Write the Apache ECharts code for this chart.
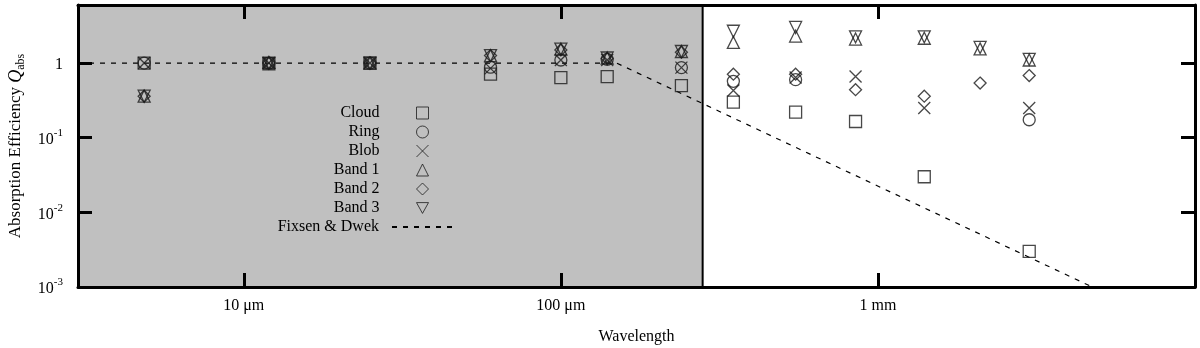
<!DOCTYPE html>
<html>
<head>
<meta charset="utf-8">
<script src="https://cdn.jsdelivr.net/npm/echarts@6/dist/echarts.min.js"></script>
<style>
  html, body { margin: 0; padding: 0; background: #fff; }
  #chart { width: 1200px; height: 348px; }
</style>
</head>
<body>
<div id="chart"></div>
<script>
// wavelengths in micron, one per column of points
var wavelength = [4.85, 12, 25, 60, 100, 140, 240, 350, 550, 850, 1400, 2100, 3000];

var cloud = [1.0, 0.98, 1.0, 0.71, 0.64, 0.66, 0.50, 0.30, 0.22, 0.165, 0.030, null, 0.0030];
var ring  = [1.0, 1.0, 1.0, 0.88, 1.10, 1.12, 0.87, 0.57, 0.60, null, null, null, 0.174];
var blob  = [1.0, 1.0, 1.0, 0.85, 1.10, 1.10, 0.87, 0.43, 0.64, 0.66, 0.25, null, 0.25];
var band1 = [0.36, 1.02, 1.0, 1.26, 1.54, 1.17, 1.43, 1.89, 2.30, 2.10, 2.15, 1.55, 1.10];
var band2 = [0.36, 1.0, 1.0, 1.26, 1.50, 1.15, 1.40, 0.71, 0.71, 0.44, 0.36, 0.54, 0.68];
var band3 = [0.36, 1.0, 1.0, 1.26, 1.54, 1.17, 1.43, 2.67, 3.00, 2.25, 2.25, 1.62, 1.12];

// Fixsen & Dwek curve: flat at 1, then falling as lambda^-2
var fixsenX = [3, 150, 4743];
var fixsenY = [1, 1, 0.001];

// shaded band (wavelength range)
var shadeFrom = 3, shadeTo = 280;

var xMin = 3, xMax = 10000;
var yMin = 0.001, yMax = 6;

var font = 'Liberation Serif';
var ink = '#1a1a1a';

var crossPath = 'path://M0,0L10,10M10,0L0,10';
var downTriPath = 'path://M0,0L10,0L5,9Z';

function pairs(xs, ys) {
    var out = [];
    for (var i = 0; i < xs.length; i++) {
        if (ys[i] != null) out.push([xs[i], ys[i]]);
    }
    return out;
}

function isPow10(v) {
    var lg = Math.log10(v);
    return Math.abs(lg - Math.round(lg)) < 1e-6 ? Math.round(lg) : null;
}

function pointSeries(name, ys, symbol) {
    return {
        name: name,
        type: 'scatter',
        data: pairs(wavelength, ys),
        symbol: symbol,
        symbolSize: 12,
        z: 3,
        itemStyle: {
            color: 'transparent',
            borderColor: ink,
            borderWidth: 1.3
        },
        emphasis: { disabled: true }
    };
}

var myChart = echarts.init(document.getElementById('chart'), null, { renderer: 'canvas' });

var axisLine = { show: true, onZero: false, lineStyle: { color: '#000', width: 3 } };
var axisTick = { show: true, inside: true, length: 14, lineStyle: { color: '#000', width: 3 } };

var legendText = { fontFamily: font, fontSize: 16, color: '#000' };

var option = {
    backgroundColor: '#fff',
    animation: false,
    textStyle: { fontFamily: font, color: '#000' },
    grid: { left: 78, right: 5, top: 5, bottom: 61, outerBoundsMode: 'none', containLabel: false },
    legend: [
        {
            // point symbols
            orient: 'vertical',
            align: 'right',
            right: 771,
            top: 105,
            padding: 0,
            itemWidth: 12,
            itemHeight: 12,
            itemGap: 3,
            selectedMode: false,
            itemStyle: { borderWidth: 1 },
            textStyle: Object.assign({ padding: [0, 32, 0, 0] }, legendText),
            data: ['Cloud', 'Ring', 'Blob', 'Band 1', 'Band 2', 'Band 3']
        },
        {
            // dashed curve
            orient: 'vertical',
            align: 'right',
            right: 745,
            top: 219,
            padding: 0,
            itemWidth: 62,
            itemHeight: 12,
            selectedMode: false,
            textStyle: Object.assign({ padding: [0, 8, 0, 0] }, legendText),
            data: [{
                name: 'Fixsen & Dwek',
                itemStyle: { color: 'transparent', borderColor: 'transparent', borderWidth: 0 }
            }]
        }
    ],
    xAxis: [
        {
            type: 'log',
            logBase: 10,
            min: xMin,
            max: xMax,
            position: 'bottom',
            z: 5,
            name: 'Wavelength',
            nameLocation: 'middle',
            nameGap: 42,
            nameTextStyle: { fontFamily: font, fontSize: 16, color: '#000' },
            axisLine: axisLine,
            axisTick: axisTick,
            splitLine: { show: false },
            minorTick: { show: false },
            axisLabel: {
                margin: 11,
                fontFamily: font,
                fontSize: 16,
                color: '#000',
                formatter: function (v) {
                    var p = isPow10(v);
                    if (p === 1) return '10 μm';
                    if (p === 2) return '100 μm';
                    if (p === 3) return '1 mm';
                    return '';
                }
            }
        },
        {
            type: 'log',
            logBase: 10,
            min: xMin,
            max: xMax,
            position: 'top',
            z: 5,
            axisLine: axisLine,
            axisTick: axisTick,
            splitLine: { show: false },
            axisLabel: { show: false }
        }
    ],
    yAxis: [
        {
            type: 'log',
            logBase: 10,
            min: yMin,
            max: yMax,
            position: 'left',
            z: 5,
            name: '{n|Absorption Efficiency }{q|Q}{s|abs}',
            nameLocation: 'middle',
            nameRotate: 90,
            nameGap: 51,
            nameTextStyle: {
                rich: {
                    n: { fontFamily: font, fontSize: 17, color: '#000', lineHeight: 22, verticalAlign: 'middle' },
                    q: { fontFamily: font, fontSize: 18, fontStyle: 'italic', color: '#000', lineHeight: 22, verticalAlign: 'middle' },
                    s: { fontFamily: font, fontSize: 12, color: '#000', lineHeight: 12, verticalAlign: 'bottom' }
                }
            },
            axisLine: axisLine,
            axisTick: axisTick,
            splitLine: { show: false },
            axisLabel: {
                margin: 15,
                fontFamily: font,
                fontSize: 16,
                color: '#000',
                formatter: function (v) {
                    var p = isPow10(v);
                    if (p === null || p > 0) return '';
                    if (p === 0) return '{b|1}';
                    return '{b|10}{sup|' + p + '}';
                },
                rich: {
                    b: { fontFamily: font, fontSize: 16, color: '#000', lineHeight: 20, verticalAlign: 'bottom' },
                    sup: { fontFamily: font, fontSize: 11, color: '#000', lineHeight: 11, verticalAlign: 'top' }
                }
            }
        },
        {
            type: 'log',
            logBase: 10,
            min: yMin,
            max: yMax,
            position: 'right',
            z: 5,
            axisLine: axisLine,
            axisTick: axisTick,
            splitLine: { show: false },
            axisLabel: { show: false }
        }
    ],
    series: [
        pointSeries('Cloud', cloud, 'rect'),
        pointSeries('Ring', ring, 'circle'),
        pointSeries('Blob', blob, crossPath),
        pointSeries('Band 1', band1, 'triangle'),
        pointSeries('Band 2', band2, 'diamond'),
        pointSeries('Band 3', band3, downTriPath),
        {
            name: 'Fixsen & Dwek',
            type: 'line',
            data: pairs(fixsenX, fixsenY),
            symbol: 'none',
            z: 2,
            lineStyle: { color: '#000', width: 1.2, type: [5, 6] },
            itemStyle: { color: '#000' },
            emphasis: { disabled: true },
            markArea: {
                silent: true,
                z: 1,
                itemStyle: { color: '#c0c0c0', borderColor: '#000', borderWidth: 2 },
                data: [[{ xAxis: shadeFrom }, { xAxis: shadeTo }]]
            }
        }
    ]
};

myChart.setOption(option);
</script>
</body>
</html>
